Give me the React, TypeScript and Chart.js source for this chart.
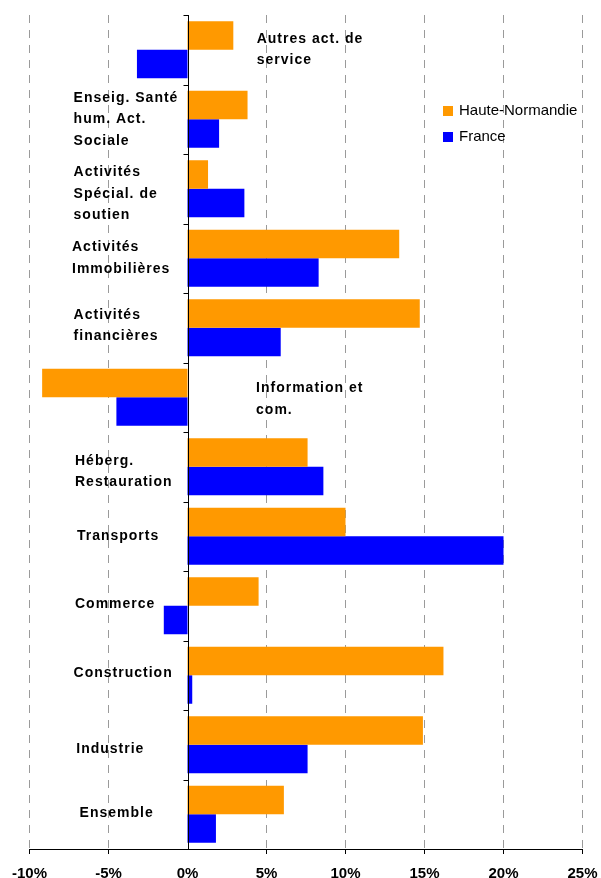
import React, { useEffect, useRef } from "react";
import { Chart, registerables } from "chart.js";

Chart.register(...registerables);

const categories: string[][] = [
  ["Autres act. de", "service"],
  ["Enseig. Santé", "hum. Act.", "Sociale"],
  ["Activités", "Spécial. de", "soutien"],
  ["Activités", "Immobilières"],
  ["Activités", "financières"],
  ["Information et", "com."],
  ["Héberg.", "Restauration"],
  ["Transports"],
  ["Commerce"],
  ["Construction"],
  ["Industrie"],
  ["Ensemble"],
];

const hauteNormandie: number[] = [2.9, 3.8, 1.3, 13.4, 14.7, -9.2, 7.6, 10.0, 4.5, 16.2, 14.9, 6.1];
const france: number[] = [-3.2, 2.0, 3.6, 8.3, 5.9, -4.5, 8.6, 20.0, -1.5, 0.3, 7.6, 1.8];

const seriesNames: string[] = ["Haute-Normandie", "France"];
const seriesColors: string[] = ["#FF9900", "#0000FF"];

const xMin = -10;
const xMax = 25;
const xStep = 5;

// label layout: left start (in axis value units) and vertical offset (px)
const labelX: number[] = [4.38, -7.21, -7.21, -7.31, -7.21, 4.34, -7.12, -7.0, -7.12, -7.21, -7.04, -6.83];
const labelDy: number[] = [0, 0, 5, 0, -2, 2, 5, 0, -2, -2, 4.5, -1];

const labelPlugin = {
  id: "catLabels",
  afterDatasetsDraw(chart: any) {
    const ctx = chart.ctx;
    const xs = chart.scales.x;
    const ys = chart.scales.y;
    ctx.save();
    ctx.fillStyle = "#000";
    ctx.font = "bold 14px 'Liberation Sans', Arial, sans-serif";
    try { (ctx as any).letterSpacing = "1px"; } catch (e) {}
    ctx.textAlign = "left";
    ctx.textBaseline = "middle";
    const lh = 21.5;
    categories.forEach((lines, i) => {
      const cy = ys.getPixelForValue(i) + labelDy[i];
      const x = xs.getPixelForValue(labelX[i]);
      const n = lines.length;
      lines.forEach((t, j) => {
        ctx.fillText(t, x, cy + (j - (n - 1) / 2) * lh);
      });
    });
    try { (ctx as any).letterSpacing = "0px"; } catch (e) {}
    // legend
    ctx.font = "15px 'Liberation Sans', Arial, sans-serif";
    const lx = 443;
    const ly = [111, 137];
    seriesNames.forEach((name, i) => {
      ctx.fillStyle = seriesColors[i];
      ctx.fillRect(lx, ly[i] - 5, 10, 10);
      ctx.fillStyle = "#000";
      ctx.fillText(name, lx + 16, ly[i]);
    });
    // vertical axis at zero with tick marks
    const x0 = Math.round(xs.getPixelForValue(0)) + 0.5;
    ctx.strokeStyle = "#000";
    ctx.lineWidth = 1;
    ctx.beginPath();
    ctx.moveTo(x0, chart.chartArea.top);
    ctx.lineTo(x0, chart.chartArea.bottom);
    const step = (chart.chartArea.bottom - chart.chartArea.top) / categories.length;
    for (let i = 0; i <= categories.length; i++) {
      const y = Math.round(chart.chartArea.top + i * step) + 0.5;
      ctx.moveTo(x0 - 5, y);
      ctx.lineTo(x0, y);
    }
    ctx.stroke();
    ctx.restore();
  },
};

export default function App() {
  const ref = useRef<HTMLCanvasElement | null>(null);
  useEffect(() => {
    if (!ref.current) return;
    const chart = new Chart(ref.current, {
      type: "bar",
      data: {
        labels: categories.map((c) => c.join(" ")),
        datasets: [
          {
            label: seriesNames[0],
            data: hauteNormandie,
            backgroundColor: seriesColors[0],
            borderWidth: 0,
            categoryPercentage: 0.82,
            barPercentage: 1.0,
          },
          {
            label: seriesNames[1],
            data: france,
            backgroundColor: seriesColors[1],
            borderWidth: 0,
            categoryPercentage: 0.82,
            barPercentage: 1.0,
          },
        ],
      },
      options: {
        indexAxis: "y",
        animation: false,
        responsive: true,
        maintainAspectRatio: false,
        layout: { padding: { left: 29.5, right: 18.5, top: 15, bottom: 0 } },
        plugins: {
          legend: { display: false },
          tooltip: { enabled: false },
        },
        scales: {
          x: {
            type: "linear",
            min: xMin,
            max: xMax,
            position: "bottom",
            afterFit: (s: any) => {
              s.height = 29;
              s.paddingLeft = 0;
              s.paddingRight = 0;
            },
            ticks: {
              stepSize: xStep,
              padding: 12,
              color: "#000",
              font: { family: "'Liberation Sans', Arial, sans-serif", size: 15, weight: "bold", lineHeight: 1 },
              callback: (v: any) => `${v}%`,
            },
            grid: {
              color: "#9a9a9a",
              tickLength: 5,
              tickColor: "#000",
              tickBorderDash: [],
              drawTicks: true,
              lineWidth: (c: any) => (c.tick && c.tick.value === 0 ? 0 : 1),
            },
            border: { display: true, color: "#000", width: 1, dash: [8, 7] },
          },
          y: {
            display: false,
            grid: { display: false },
          },
        },
      },
      plugins: [labelPlugin],
    } as any);
    return () => chart.destroy();
  }, []);
  return (
    <div style={{ position: "fixed", left: 0, top: 0, width: 601, height: 878, background: "#fff" }}>
      <canvas ref={ref} />
    </div>
  );
}
